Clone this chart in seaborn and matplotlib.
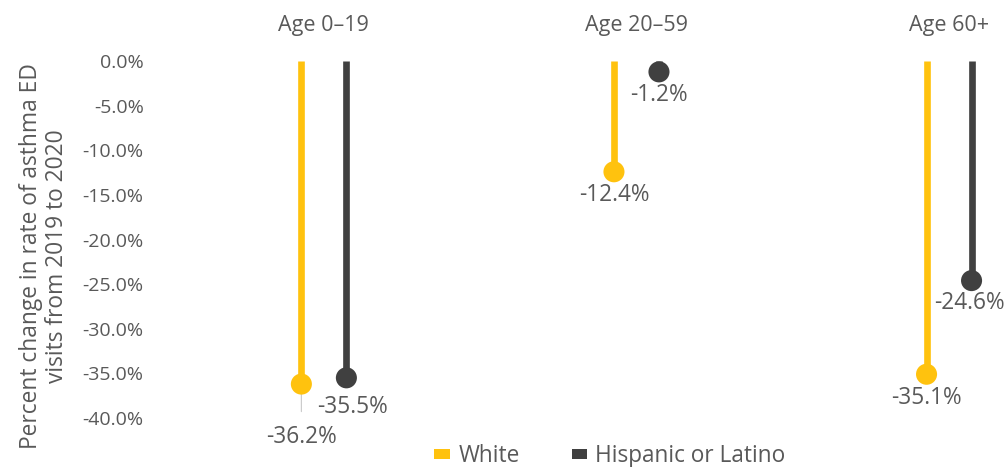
import matplotlib
matplotlib.use("Agg")
import matplotlib.pyplot as plt
from matplotlib.patches import Patch
import seaborn as sns
import pandas as pd

# Data: percent change in asthma ED visit rate, 2019 -> 2020
age_groups = ["Age 0\u201319", "Age 20\u201359", "Age 60+"]
groups = ["White", "Hispanic or Latino"]
white_change = [-36.2, -12.4, -35.1]
hispanic_change = [-35.5, -1.2, -24.6]
y_ticks = [0, -5, -10, -15, -20, -25, -30, -35, -40]

palette = {"White": "#FFC20E", "Hispanic or Latino": "#404040"}
text_color = "#595959"

sns.set_theme(style="white")
plt.rcParams["font.family"] = ["Open Sans", "DejaVu Sans"]

rows = []
for i, age in enumerate(age_groups):
    rows.append({"age": age, "idx": i, "group": "White", "value": white_change[i]})
    rows.append({"age": age, "idx": i, "group": "Hispanic or Latino", "value": hispanic_change[i]})
df = pd.DataFrame(rows)
offsets = {"White": -0.072, "Hispanic or Latino": 0.072}
df["x"] = df["idx"] + df["group"].map(offsets)

fig = plt.figure(figsize=(10.05, 4.67), dpi=100)
ax = fig.add_axes([0.154, 0.105, 0.846, 0.764])

# stems from zero to the value
for g in groups:
    sub = df[df["group"] == g]
    ax.vlines(sub["x"], 0, sub["value"], color=palette[g], linewidth=4.8, zorder=2)

sns.scatterplot(data=df, x="x", y="value", hue="group", palette=palette,
                s=230, edgecolor="none", legend=False, ax=ax, zorder=3, clip_on=False)

# value labels under each marker
label_offsets = {
    (0, "White"): (0, -38),
    (0, "Hispanic or Latino"): (4.5, -21),
    (2, "Hispanic or Latino"): (-1.5, -16),
}
for _, r in df.iterrows():
    dx, dy = label_offsets.get((r["idx"], r["group"]), (0, -17))
    ax.annotate(f"{r['value']:.1f}%", (r["x"], r["value"]), xytext=(dx, dy),
                textcoords="offset points", ha="center", va="center",
                fontsize=16.3, color=text_color, zorder=4, annotation_clip=False)

# leader line for the shifted label
lead = df[(df["idx"] == 0) & (df["group"] == "White")].iloc[0]
ax.annotate("", (lead["x"], lead["value"]), xytext=(lead["x"], lead["value"] - 3.4),
            textcoords="data", arrowprops=dict(arrowstyle="-", color="#C8C8C8", lw=0.8),
            zorder=2.5, annotation_clip=False)

# group headers
for i, age in enumerate(age_groups):
    ax.text(i, 1.101, age, transform=ax.get_xaxis_transform(), ha="center",
            va="center", fontsize=15.5, color=text_color)

ax.set_xlim(-0.541, 2.179)
ax.set_ylim(-40, 0)
ax.set_yticks(y_ticks)
ax.set_yticklabels([f"{t:.1f}%" for t in y_ticks], fontsize=14, color=text_color)
ax.set_xticks([])
ax.set_xlabel("")
ax.set_ylabel("")
ax.tick_params(axis="y", length=0, pad=8)
for s in ax.spines.values():
    s.set_visible(False)

fig.text(44 / 1005, 1 - 256 / 467,
         "Percent change in rate of asthma ED\nvisits from 2019 to 2020",
         rotation=90, ha="center", va="center", multialignment="center",
         fontsize=16.4, color=text_color, linespacing=1.1)

handles = [Patch(facecolor=palette[g], edgecolor="none", label=g) for g in groups]
fig.legend(handles=handles, loc="center", bbox_to_anchor=(0.607, 0.023), ncol=2,
           frameon=False, fontsize=16.3, labelcolor=text_color, handlelength=0.7,
           handleheight=0.35, handletextpad=0.35, columnspacing=2.3)

fig.savefig("out.png", dpi=100)
